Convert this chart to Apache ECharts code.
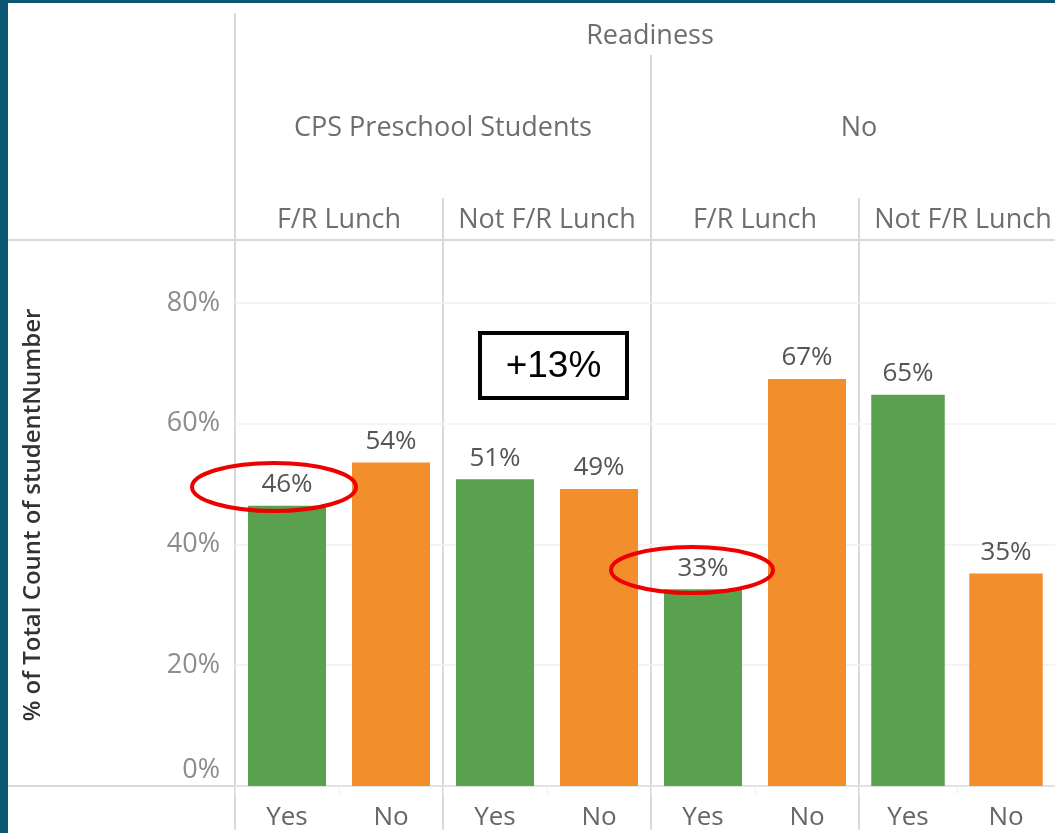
<!DOCTYPE html>
<html>
<head>
<meta charset="utf-8">
<script src="https://cdn.jsdelivr.net/npm/echarts@6/dist/echarts.min.js"></script>
<style>
html,body{margin:0;padding:0;background:#fff;}
#chart{width:1055px;height:833px;}
</style>
</head>
<body>
<div id="chart"></div>
<script>
// ---- data ----
const readinessCats = ['Yes', 'No'];
const lunchPanels = ['F/R Lunch', 'Not F/R Lunch', 'F/R Lunch', 'Not F/R Lunch'];
const groupHeaders = ['CPS Preschool Students', 'No'];
const topHeader = 'Readiness';
const yesValues = [46.4, 50.8, 32.6, 64.8];
const noValues = [53.6, 49.2, 67.4, 35.2];
const yTicks = [0, 20, 40, 60, 80];
const yTitle = '% of Total Count of studentNumber';
const annotationText = '+13%';

// ---- styling ----
const GREEN = '#59A14F', ORANGE = '#F28E2B';
const FONT = 'Open Sans';
const PLOT_LEFT = 235, PANEL_W = 208, PLOT_TOP = 242.6, PLOT_H = 543.4;
const LINE = '#d9d9d9';

const grids = [], xAxes = [], yAxes = [], series = [];
lunchPanels.forEach((p, i) => {
  grids.push({left: PLOT_LEFT + i * PANEL_W, top: PLOT_TOP, width: PANEL_W, height: PLOT_H, containLabel: false});
  xAxes.push({
    type: 'category', gridIndex: i, data: readinessCats,
    axisLine: {show: true, lineStyle: {color: LINE, width: 1.5}},
    axisTick: {show: true, alignWithLabel: false, length: 8, lineStyle: {color: '#eeeeee'}},
    axisLabel: {color: '#666', fontFamily: FONT, fontSize: 26, margin: 19}
  });
  yAxes.push({
    type: 'value', gridIndex: i, min: 0, max: 90, interval: 20,
    axisLine: {show: false}, axisTick: {show: false},
    splitLine: {show: true, showMaxLine: false, showMinLine: false, lineStyle: {color: '#f0f0f0', width: 1.5}},
    axisLabel: {
      show: i === 0, color: '#8c8c8c', fontFamily: FONT, fontSize: 27, margin: 15,
      showMaxLabel: false,
      formatter: v => (v === 0 ? '{z|0%}' : (yTicks.indexOf(v) >= 0 ? v + '%' : '')),
      rich: {z: {color: '#8c8c8c', fontFamily: FONT, fontSize: 27, padding: [0, 0, 32, 0]}}
    }
  });
  series.push({
    type: 'bar', xAxisIndex: i, yAxisIndex: i, barWidth: '75%',
    data: [
      {value: yesValues[i], itemStyle: {color: GREEN}},
      {value: noValues[i], itemStyle: {color: ORANGE}}
    ],
    label: {
      show: true, position: 'top', distance: 8, color: '#555', fontFamily: FONT, fontSize: 26,
      formatter: p => Math.round(p.value) + '%'
    },
    silent: true
  });
});

// ---- header/frame graphics ----
const g = [];
g.push({type: 'rect', shape: {x: 0, y: 0, width: 8, height: 833}, style: {fill: '#0B5673'}, z: 100});
g.push({type: 'rect', shape: {x: 0, y: 0, width: 1055, height: 3}, style: {fill: '#0B5673'}, z: 100});
g.push({type: 'line', shape: {x1: 8, y1: 240, x2: 1055, y2: 240}, style: {stroke: LINE, lineWidth: 2}});
g.push({type: 'line', shape: {x1: 8, y1: 786, x2: 235, y2: 786}, style: {stroke: LINE, lineWidth: 2}});
g.push({type: 'line', shape: {x1: 235, y1: 13, x2: 235, y2: 830}, style: {stroke: LINE, lineWidth: 2}});
g.push({type: 'line', shape: {x1: 651, y1: 55, x2: 651, y2: 830}, style: {stroke: LINE, lineWidth: 2}});
g.push({type: 'line', shape: {x1: 443, y1: 198, x2: 443, y2: 830}, style: {stroke: LINE, lineWidth: 2}});
g.push({type: 'line', shape: {x1: 859, y1: 198, x2: 859, y2: 830}, style: {stroke: LINE, lineWidth: 2}});

function hText(txt, cx, cy) {
  return {type: 'text', x: cx, y: cy, style: {text: txt, fill: '#6e6e6e', font: '27px "' + FONT + '"', align: 'center', verticalAlign: 'middle'}};
}
g.push(hText(topHeader, 650, 36));
groupHeaders.forEach((t, i) => g.push(hText(t, PLOT_LEFT + PANEL_W * (2 * i + 1), 128)));
lunchPanels.forEach((t, i) => g.push(hText(t, PLOT_LEFT + PANEL_W * (i + 0.5), 220)));

g.push({type: 'text', x: 33, y: 515, rotation: Math.PI / 2,
  style: {text: yTitle, fill: '#333', font: '600 24px "' + FONT + '"', align: 'center', verticalAlign: 'middle'}});

// annotations
g.push({type: 'ellipse', shape: {cx: 274, cy: 487, rx: 82, ry: 24}, style: {fill: 'none', stroke: '#ee0000', lineWidth: 4}, z: 50});
g.push({type: 'ellipse', shape: {cx: 692, cy: 570, rx: 81, ry: 23}, style: {fill: 'none', stroke: '#ee0000', lineWidth: 4}, z: 50});
g.push({type: 'rect', shape: {x: 480, y: 333, width: 147, height: 65}, style: {fill: '#fff', stroke: '#000', lineWidth: 4}, z: 50});
g.push({type: 'text', x: 553.5, y: 367, style: {text: annotationText, fill: '#000', font: '37px Arial, "Liberation Sans"', align: 'center', verticalAlign: 'middle'}, z: 51});

const chart = echarts.init(document.getElementById('chart'), null, {renderer: 'canvas'});
chart.setOption({
  backgroundColor: '#fff',
  animation: false,
  grid: grids, xAxis: xAxes, yAxis: yAxes, series: series,
  graphic: g
});
</script>
</body>
</html>
